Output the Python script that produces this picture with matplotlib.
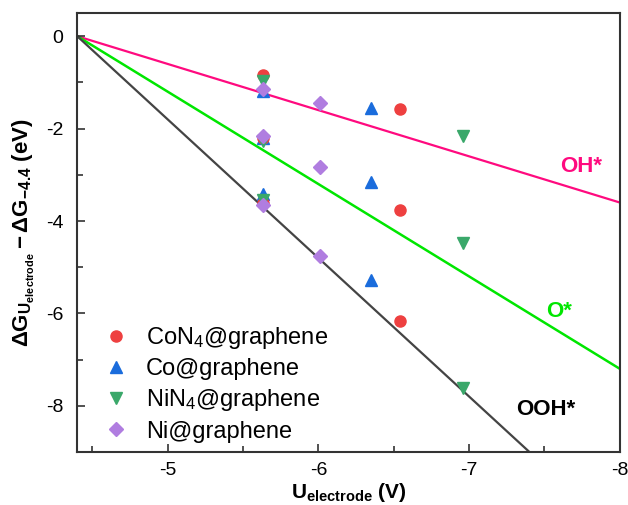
import numpy as np
import matplotlib
matplotlib.use('Agg')
import matplotlib.pyplot as plt

plt.rcParams['font.family'] = ['Liberation Sans', 'DejaVu Sans']
plt.rcParams['mathtext.fontset'] = 'custom'
plt.rcParams['mathtext.rm'] = 'Liberation Sans'
plt.rcParams['mathtext.it'] = 'Liberation Sans'
plt.rcParams['mathtext.bf'] = 'Liberation Sans:bold'

# reference lines (U vs dG)
line_u = [-4.4, -8.0]
oh_line = [0.0, -3.6]
o_line = [0.0, -7.2]
ooh_line = [0.0, -10.8]

# points: first 3 at equilibrium U (-5.63), last 3 at limiting U of each catalyst
con4_u = [-5.63, -5.63, -5.63, -6.54, -6.54, -6.54]
con4_g = [-0.84, -2.2, -3.6, -1.58, -3.77, -6.17]
co_u = [-5.63, -5.63, -5.63, -6.35, -6.35, -6.35]
co_g = [-1.18, -2.2, -3.42, -1.56, -3.15, -5.28]
nin4_u = [-5.63, -5.63, -5.63, -6.96, -6.96, -6.96]
nin4_g = [-0.97, -2.27, -3.54, -2.17, -4.48, -7.61]
ni_u = [-5.63, -5.63, -5.63, -6.01, -6.01, -6.01]
ni_g = [-1.15, -2.16, -3.65, -1.45, -2.83, -4.76]

fig = plt.figure(figsize=(6.28, 5.05), dpi=100)
ax = fig.add_axes([0.123, 0.105, 0.864, 0.869])

ax.plot(line_u, oh_line, color='#ff0a7f', lw=1.6, zorder=1)
ax.plot(line_u, o_line, color='#00e600', lw=1.8, zorder=1)
ax.plot(line_u, ooh_line, color='#444444', lw=1.6, zorder=1)

ax.plot(con4_u, con4_g, 'o', color='#ee4040', ms=8, ls='none', label=r'CoN$_4$@graphene', zorder=3)
ax.plot(co_u, co_g, '^', color='#1a6cdc', ms=9, ls='none', label='Co@graphene', zorder=2)
ax.plot(nin4_u, nin4_g, 'v', color='#3aa86a', ms=9, ls='none', label=r'NiN$_4$@graphene', zorder=3)
ax.plot(ni_u, ni_g, 'D', color='#b07de0', ms=7, ls='none', label='Ni@graphene', zorder=4)

ax.text(-7.74, -2.83, 'OH*', color='#ff0a7f', fontsize=16, fontweight='bold', ha='center', va='center')
ax.text(-7.6, -5.95, 'O*', color='#00e600', fontsize=16, fontweight='bold', ha='center', va='center')
ax.text(-7.51, -8.07, 'OOH*', color='black', fontsize=16, fontweight='bold', ha='center', va='center')

ax.set_xlim(-4.4, -8.0)
ax.set_ylim(-9, 0.5)
ax.set_xticks([-5, -6, -7, -8])
ax.set_xticklabels(['-5', '-6', '-7', '-8'])
ax.set_yticks([0, -2, -4, -6, -8])
ax.set_yticklabels(['0', '-2', '-4', '-6', '-8'])
ax.set_xticks(np.arange(-4.5, -8.0, -0.5), minor=True)
ax.set_yticks(np.arange(-9, 0.5, 1), minor=True)
ax.tick_params(which='both', direction='in', labelsize=14, color='#333333')
ax.tick_params(which='major', length=6, width=1.2)
ax.tick_params(which='minor', length=4, width=1.2)
ax.tick_params(axis='x', which='major', pad=7)
ax.tick_params(axis='y', which='major', pad=10)
for s in ax.spines.values():
    s.set_color('#333333')
    s.set_linewidth(1.5)

ax.set_xlabel(r'$\mathbf{U_{electrode}}$ $\mathbf{(V)}$', fontsize=15, va='bottom')
ax.xaxis.set_label_coords(0.5, -0.118)
ax.set_ylabel(r'$\mathbf{\Delta G_{U_{electrode}} - \Delta G_{-4.4}}$ $\mathbf{(eV)}$', fontsize=16)
ax.yaxis.set_label_coords(-0.074, 0.5)

ax.legend(loc='lower left', bbox_to_anchor=(0.0, -0.027), frameon=False, fontsize=17,
          handletextpad=0.5, labelspacing=0.3, borderaxespad=0.5, handlelength=1.5)

fig.savefig('out.png', dpi=100)
